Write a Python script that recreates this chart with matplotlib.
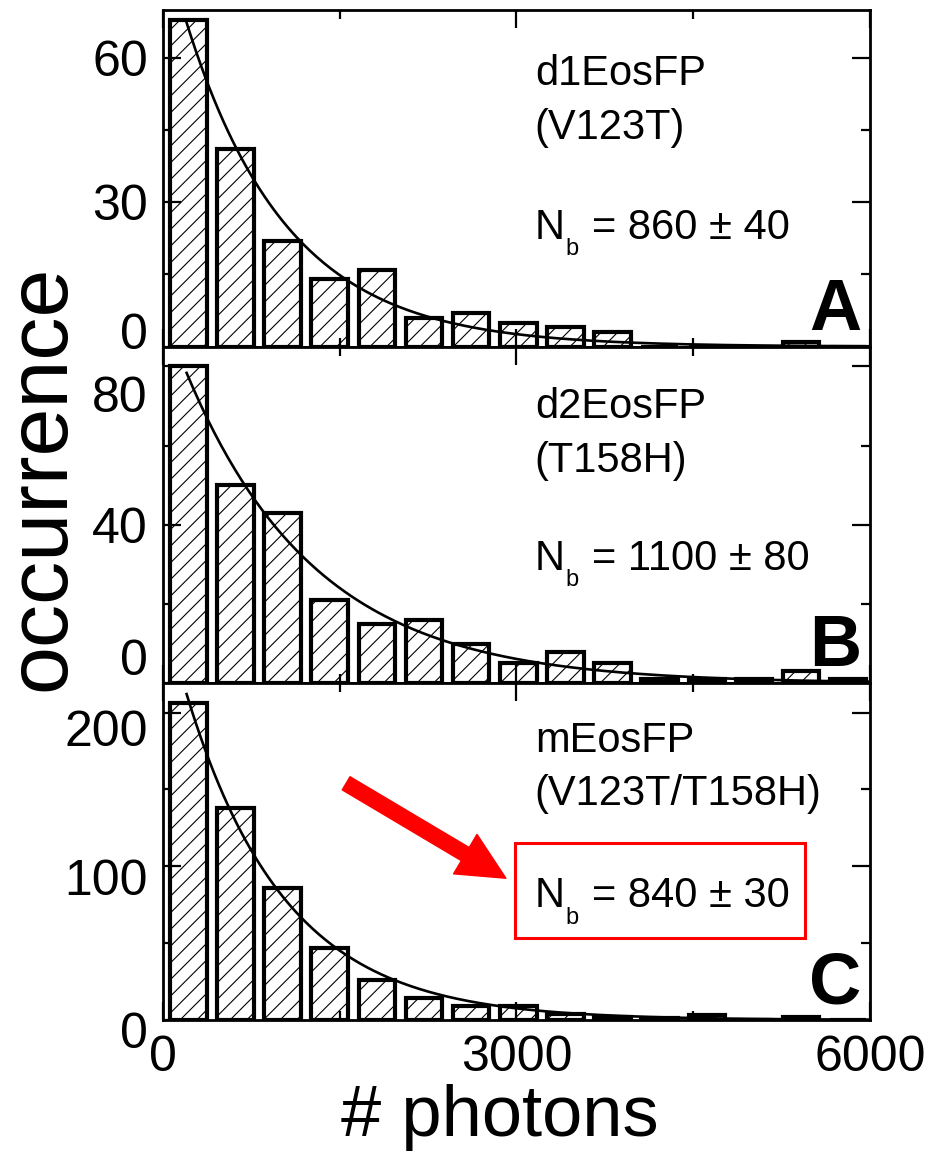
import numpy as np
import matplotlib.pyplot as plt
from matplotlib.patches import Rectangle
from matplotlib.transforms import ScaledTranslation

plt.rcParams['font.family'] = 'Liberation Sans'
plt.rcParams['hatch.linewidth'] = 0.8

# histogram bins (photons), 400 wide
bin_left = np.arange(0, 6000, 400)

counts_a = [68, 41, 22, 14, 16, 6, 7, 5, 4, 3, 0, 0, 0, 1, 0]
counts_b = [80, 50, 43, 21, 15, 16, 10, 5, 8, 5, 1, 1, 1, 3, 1]
counts_c = [206, 138, 86, 47, 26, 14, 9, 9, 4, 2, 1, 3, 0, 2, 0]

# exponential fits: amplitude, N_b
fit_amp = [85, 94, 269]
fit_nb = [860, 1100, 840]

names = ['d1EosFP', 'd2EosFP', 'mEosFP']
mutants = ['(V123T)', '(T158H)', '(V123T/T158H)']
nb_values = ['= 860 ± 40', '= 1100 ± 80', '= 840 ± 30']
letters = ['A', 'B', 'C']

ylims = [70, 85, 219]
yticks = [[0, 30, 60], [0, 40, 80], [0, 100, 200]]
yminor = [[15, 45], [20, 60], [50, 150]]
# the tick labels sit a bit off their ticks in the original (pixels, + = up)
label_shift = [[16, 0, 0], [26, 0, -28], [-10, -11, -15]]

fig = plt.figure(figsize=(9.49, 11.58), dpi=100)
gs = fig.add_gridspec(3, 1, left=0.1718, right=0.9167, top=0.9914,
                      bottom=0.1192, hspace=0)
axes = [fig.add_subplot(gs[i]) for i in range(3)]

xfit = np.linspace(200, 6000, 300)
nb_y = [0.321, 0.338, 0.335]
for i, ax in enumerate(axes):
    counts = [counts_a, counts_b, counts_c][i]
    ax.bar(bin_left + 60, counts, width=310, align='edge',
           facecolor='white', edgecolor='black', hatch='//', linewidth=3)
    ax.plot(xfit, fit_amp[i] * np.exp(-xfit / fit_nb[i]), 'k-', lw=1.9)
    ax.set_xlim(0, 6000)
    ax.set_ylim(0, ylims[i])
    ax.set_yticks(yticks[i])
    ax.set_yticks(yminor[i], minor=True)
    ax.set_xticks([0, 3000, 6000])
    ax.set_xticks([1500, 4500], minor=True)
    ax.tick_params(direction='in', which='both', top=True, right=True,
                   labelsize=36, width=1.6, pad=11)
    ax.tick_params(which='major', length=13)
    ax.tick_params(which='minor', length=6.5)
    if i < 2:
        ax.tick_params(labelbottom=False)
    for s in ax.spines.values():
        s.set_linewidth(2)
    for lab, dy in zip(ax.get_yticklabels(), label_shift[i]):
        lab.set_transform(lab.get_transform() +
                          ScaledTranslation(0, dy / 100, fig.dpi_scale_trans))

    ax.text(0.526, 0.81 + 0.01 * i, names[i], transform=ax.transAxes,
            fontsize=30, va='center', ha='left')
    ax.text(0.526, 0.65 + 0.01 * i, mutants[i], transform=ax.transAxes,
            fontsize=30, va='center', ha='left')
    # N with a small, low subscript b
    ax.annotate('N', xy=(0.526, nb_y[i]), xycoords='axes fraction',
                fontsize=30, va='baseline', ha='left')
    ax.annotate('b', xy=(0.526, nb_y[i]), xycoords='axes fraction',
                xytext=(22, -12), textcoords='offset points',
                fontsize=17, va='baseline', ha='left')
    ax.annotate(nb_values[i], xy=(0.526, nb_y[i]), xycoords='axes fraction',
                xytext=(41, 0), textcoords='offset points',
                fontsize=30, va='baseline', ha='left')
    ax.text(0.988, 0.05, letters[i], transform=ax.transAxes, fontsize=52,
            fontweight='bold', ha='right', va='baseline')

# red highlight on panel C
axc = axes[2]
axc.add_patch(Rectangle((0.498, 0.243), 0.41, 0.282, transform=axc.transAxes,
                        fill=False, edgecolor='red', linewidth=2.2))
axc.annotate('', xy=(0.485, 0.421), xytext=(0.259, 0.703),
             xycoords='axes fraction', textcoords='axes fraction',
             arrowprops=dict(arrowstyle='simple,head_length=1.7,head_width=1.65,tail_width=0.55',
                             color='red', shrinkA=0, shrinkB=0, mutation_scale=20))

axc.set_xlabel('# photons', fontsize=52)
axc.xaxis.set_label_coords(0.477, -0.19)
fig.text(0.045, 0.587, 'occurrence', rotation=90, fontsize=62,
         ha='center', va='center')

plt.savefig('out.png', dpi=100)
